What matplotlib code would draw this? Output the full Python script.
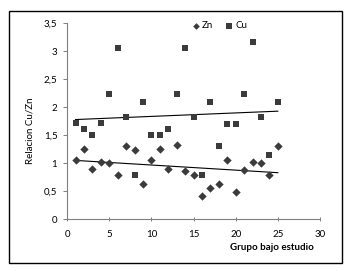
import matplotlib
matplotlib.use("Agg")
import matplotlib.pyplot as plt
import numpy as np
from matplotlib.patches import Rectangle
from matplotlib.ticker import FuncFormatter, MultipleLocator

plt.rcParams["font.family"] = ["Lato", "DejaVu Sans"]

grupo = list(range(1, 26))
zn = [1.05, 1.26, 0.89, 1.03, 1.01, 0.79, 1.31, 1.23, 0.63, 1.05,
      1.26, 0.89, 1.33, 0.87, 0.79, 0.42, 0.55, 0.63, 1.05, 0.48,
      0.88, 1.02, 1.01, 0.79, 1.31]
cu = [1.72, 1.61, 1.50, 1.72, 2.24, 3.06, 1.82, 0.79, 2.10, 1.50,
      1.50, 1.62, 2.24, 3.06, 1.82, 0.79, 2.10, 1.31, 1.71, 1.71,
      2.24, 3.16, 1.82, 1.15, 2.10]

mark_color = "#3b3b3b"


def comma(v, pos):
    s = f"{v:g}"
    return s.replace(".", ",")


fig = plt.figure(figsize=(3.53, 2.71), dpi=100)
ax = fig.add_axes([0.190, 0.191, 0.7165, 0.723])

ax.scatter(grupo, zn, marker="D", s=18, color=mark_color, linewidths=0, label="Zn", zorder=3)
ax.scatter(grupo, cu, marker="s", s=22, color=mark_color, linewidths=0, label="Cu", zorder=3)

# linear trend lines, as in the original spreadsheet chart
x = np.array(grupo)
for serie in (zn, cu):
    m, b = np.polyfit(x, serie, 1)
    ax.plot([x[0], x[-1]], [m * x[0] + b, m * x[-1] + b], color="black", lw=0.8, zorder=2)

ax.set_xlim(0, 30)
ax.set_ylim(0, 3.5)
ax.xaxis.set_major_locator(MultipleLocator(5))
ax.yaxis.set_major_locator(MultipleLocator(0.5))
ax.yaxis.set_major_formatter(FuncFormatter(comma))

for side in ("top", "right"):
    ax.spines[side].set_visible(False)
for side in ("left", "bottom"):
    ax.spines[side].set_color("#7f7f7f")
    ax.spines[side].set_linewidth(0.8)

ax.tick_params(axis="y", direction="out", length=3, width=0.7, color="#7f7f7f", labelsize=7, pad=4)
ax.tick_params(axis="x", direction="inout", length=3, width=0.7, color="#7f7f7f", labelsize=7, pad=6)

fig.text(30 / 353, 1 - 131 / 271, "Relacion Cu/Zn", rotation=90, ha="center", va="center", fontsize=7)
fig.text(272 / 353, 1 - 248 / 271, "Grupo bajo estudio", ha="center", va="center",
         fontsize=7, fontweight="bold")

ax.legend(loc="center", bbox_to_anchor=(219 / 353, 1 - 26 / 271), bbox_transform=fig.transFigure,
          ncol=2, frameon=False, fontsize=7, handletextpad=0.1, columnspacing=1.2,
          handlelength=1.0, markerscale=0.8)

fig.patches.append(Rectangle((9 / 353, 8 / 271), 333 / 353, 252 / 271, transform=fig.transFigure,
                             fill=False, edgecolor="black", lw=1.0))

fig.savefig("out.png", dpi=100)
